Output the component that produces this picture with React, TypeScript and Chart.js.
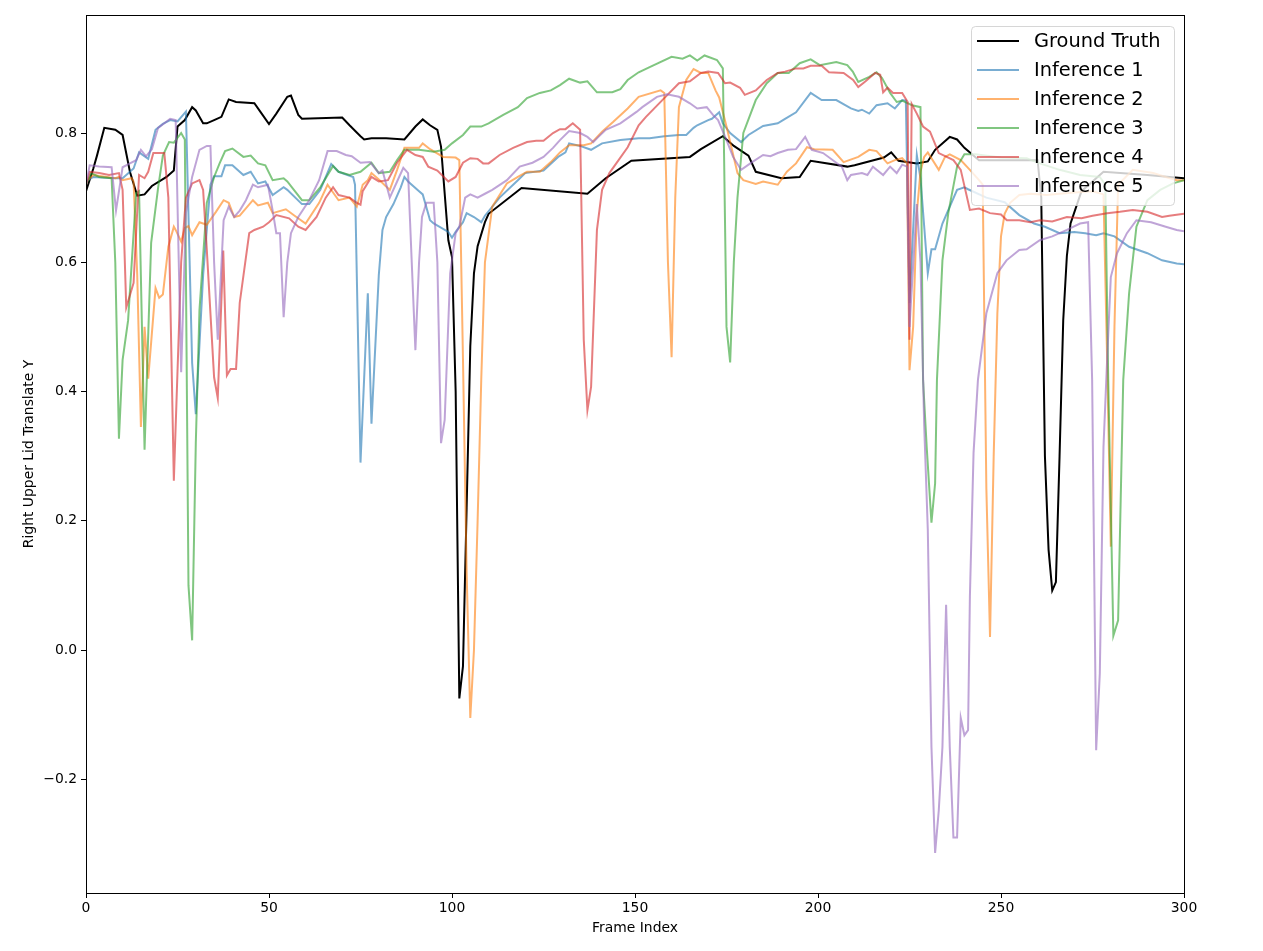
import { Chart, registerables } from "chart.js";
import React, { useEffect, useRef } from "react";

Chart.register(...registerables);

// [frame, value] pairs
const groundTruth: [number, number][] = [
  [0, 0.71], [2, 0.745], [3, 0.765], [5, 0.808], [8, 0.805], [10, 0.797], [12, 0.74], [14, 0.703],
  [16, 0.705], [18, 0.718], [22, 0.732], [24, 0.742], [25, 0.81], [27, 0.82], [29, 0.84], [30, 0.835],
  [32, 0.815], [33, 0.815], [35, 0.82], [37, 0.825], [39, 0.852], [41, 0.848], [46, 0.846], [48, 0.83],
  [50, 0.814], [52, 0.83], [55, 0.856], [56, 0.858], [58, 0.828], [59, 0.822], [70, 0.824], [72, 0.812],
  [75, 0.795], [76, 0.79], [78, 0.792], [82, 0.792], [87, 0.79], [90, 0.81], [92, 0.821], [94, 0.812],
  [96, 0.805], [97, 0.779], [99, 0.634], [100, 0.608], [101, 0.4], [102, -0.075], [103, -0.025],
  [104, 0.22], [105, 0.47], [106, 0.583], [107, 0.625], [109, 0.662], [110, 0.675], [119, 0.715],
  [137, 0.706], [142, 0.73], [149, 0.757], [165, 0.763], [168, 0.775], [174, 0.795], [177, 0.78],
  [181, 0.765], [183, 0.74], [190, 0.73], [195, 0.732], [198, 0.757], [208, 0.748], [210, 0.75],
  [218, 0.762], [220, 0.77], [222, 0.757], [227, 0.753], [230, 0.756], [232, 0.774], [236, 0.794],
  [238, 0.79], [240, 0.777], [244, 0.758], [260, 0.758], [261, 0.7], [262, 0.3], [263, 0.155],
  [264, 0.092], [265, 0.105], [266, 0.3], [267, 0.51], [268, 0.61], [269, 0.66], [272, 0.71],
  [278, 0.74], [290, 0.735], [300, 0.73],
];

const inference1: [number, number][] = [
  [0, 0.725], [2, 0.732], [8, 0.73], [10, 0.73], [13, 0.745], [14.5, 0.77], [17, 0.76], [19, 0.805],
  [21, 0.814], [23, 0.82], [25, 0.818], [27.3, 0.833], [29, 0.444], [30, 0.365], [32, 0.58], [34, 0.72],
  [35, 0.733], [37, 0.733], [38, 0.75], [40, 0.75], [43, 0.735], [45, 0.74], [47, 0.722], [49, 0.725],
  [51, 0.704], [54, 0.716], [55, 0.712], [59, 0.69], [61, 0.69], [64, 0.712], [67, 0.752], [69, 0.74],
  [73, 0.732], [73.5, 0.72], [75, 0.29], [77, 0.552], [78, 0.35], [80, 0.58], [81, 0.65], [82, 0.67],
  [84, 0.69], [86, 0.716], [87, 0.732], [88, 0.725], [91, 0.71], [92, 0.705], [94, 0.665], [95, 0.66],
  [99, 0.647], [100, 0.638], [101, 0.647], [103, 0.662], [104, 0.676], [106, 0.67], [108, 0.662],
  [109, 0.672], [113, 0.7], [118, 0.727], [120, 0.738], [125, 0.742], [129, 0.763], [131, 0.77],
  [132, 0.784], [135, 0.78], [138, 0.774], [141, 0.784], [146, 0.789], [151, 0.792], [154, 0.792],
  [158, 0.795], [162, 0.797], [164, 0.797], [166, 0.808], [167, 0.812], [170, 0.82], [171, 0.822],
  [173, 0.832], [174, 0.815], [176, 0.8], [179, 0.786], [181, 0.797], [185, 0.811], [189, 0.815],
  [191, 0.822], [194, 0.832], [198, 0.862], [201, 0.851], [205, 0.851], [209, 0.838], [211, 0.834],
  [212, 0.836], [214, 0.83], [216, 0.843], [219, 0.846], [221, 0.838], [223, 0.851], [224, 0.85],
  [225, 0.537], [227, 0.766], [228, 0.73], [230, 0.583], [231, 0.62], [232, 0.62], [234, 0.66],
  [238, 0.712], [240, 0.716], [241, 0.713], [246, 0.7], [251, 0.693], [255, 0.673], [259, 0.66],
  [262, 0.655], [266, 0.645], [270, 0.647], [273, 0.645], [276, 0.642], [278, 0.645], [281, 0.64],
  [285, 0.624], [290, 0.614], [294, 0.603], [298, 0.598], [300, 0.597],
];

const inference2: [number, number][] = [
  [0, 0.725], [2, 0.735], [8, 0.73], [9, 0.732], [10, 0.727], [12.5, 0.73], [13, 0.725], [14, 0.58],
  [15, 0.345], [16, 0.5], [17, 0.42], [19, 0.56], [20, 0.545], [21, 0.55], [22.5, 0.624], [24, 0.655],
  [24.5, 0.65], [26, 0.632], [27, 0.653], [28, 0.656], [29, 0.642], [31, 0.662], [33, 0.658],
  [35.5, 0.678], [37.6, 0.696], [39, 0.692], [40.5, 0.67], [42, 0.672], [45.6, 0.696], [47, 0.688],
  [49.7, 0.692], [51, 0.676], [54.6, 0.682], [57, 0.672], [60, 0.66], [63.7, 0.692], [66, 0.72],
  [69, 0.696], [72, 0.7], [74, 0.686], [75.6, 0.72], [77, 0.727], [78, 0.738], [80, 0.728], [83, 0.712],
  [85, 0.743], [87, 0.777], [91, 0.777], [92, 0.784], [94, 0.775], [97.6, 0.763], [101, 0.762],
  [102, 0.758], [103, 0.45], [104, 0.12], [105, -0.105], [106, 0.0], [107, 0.2], [108, 0.42],
  [109, 0.6], [111, 0.686], [115, 0.722], [118, 0.732], [120.5, 0.74], [124, 0.74], [127, 0.755],
  [129.5, 0.77], [132, 0.781], [136, 0.781], [138, 0.784], [141, 0.802], [144, 0.817], [148, 0.838],
  [151, 0.856], [157, 0.866], [158, 0.862], [159, 0.6], [160, 0.453], [161, 0.7], [162, 0.84],
  [164, 0.882], [166, 0.899], [168, 0.893], [170, 0.893], [172, 0.866], [173, 0.855], [175, 0.81],
  [178, 0.738], [179.6, 0.727], [183, 0.721], [185, 0.725], [189, 0.72], [191.5, 0.74], [194, 0.753],
  [197, 0.778], [199, 0.775], [204, 0.774], [207, 0.755], [211, 0.763], [214, 0.774], [216, 0.772],
  [219, 0.753], [221, 0.758], [223, 0.761], [224.3, 0.753], [225, 0.433], [226, 0.5], [227, 0.676],
  [228, 0.74], [229, 0.763], [230, 0.77], [233, 0.743], [234.7, 0.763], [236, 0.767], [239, 0.758],
  [241.5, 0.743], [244, 0.727], [245, 0.72], [246, 0.25], [247, 0.02], [248, 0.3], [249, 0.52],
  [250, 0.64], [251, 0.675], [252.5, 0.692], [255, 0.704], [258, 0.706], [262.5, 0.704], [266, 0.706],
  [270, 0.708], [275, 0.71], [278, 0.705], [279, 0.45], [280, 0.16], [281, 0.5], [282, 0.72],
  [286, 0.743], [291.6, 0.738], [295, 0.732], [298, 0.727], [300, 0.727],
];

const inference3: [number, number][] = [
  [0, 0.72], [1.4, 0.738], [3.6, 0.732], [7, 0.73], [8, 0.6], [9, 0.327], [10, 0.449], [11.5, 0.51],
  [13.7, 0.707], [14.5, 0.71], [16, 0.31], [17.8, 0.63], [19.7, 0.715], [21, 0.765], [22.7, 0.786],
  [24, 0.785], [26, 0.8], [27, 0.79], [28, 0.1], [29, 0.015], [30, 0.32], [31, 0.526], [33, 0.692],
  [35, 0.732], [36.5, 0.753], [38, 0.772], [40, 0.776], [43, 0.763], [45, 0.765], [47, 0.753],
  [49, 0.75], [51, 0.727], [54, 0.73], [55, 0.725], [59, 0.696], [61, 0.696], [64, 0.716],
  [67.5, 0.749], [69, 0.74], [72, 0.735], [75, 0.74], [78, 0.754], [80, 0.738], [83, 0.74],
  [85, 0.758], [87, 0.774], [91, 0.774], [95, 0.771], [98, 0.774], [100, 0.784], [103, 0.797],
  [105, 0.81], [108, 0.81], [110, 0.815], [114, 0.828], [118, 0.84], [120.5, 0.854], [124, 0.862],
  [127, 0.866], [129.5, 0.874], [132, 0.884], [135, 0.878], [137, 0.88], [139.6, 0.863],
  [143.8, 0.863], [146, 0.868], [148, 0.882], [151, 0.894], [154, 0.902], [160, 0.918], [163, 0.915],
  [165, 0.92], [167, 0.912], [169, 0.92], [172.4, 0.913], [174, 0.9], [175, 0.5], [176, 0.445],
  [177, 0.6], [178, 0.7], [179.6, 0.8], [183, 0.851], [186, 0.877], [189, 0.893], [192, 0.893],
  [195, 0.908], [198, 0.914], [200.5, 0.905], [205, 0.91], [208, 0.905], [209.5, 0.895], [211, 0.879],
  [214, 0.887], [216, 0.894], [217.5, 0.885], [219.7, 0.862], [221.5, 0.848], [223, 0.85],
  [225.7, 0.843], [228, 0.84], [228.7, 0.418], [229.7, 0.314], [231, 0.197], [232, 0.258],
  [232.5, 0.418], [234, 0.603], [235.6, 0.676], [238, 0.748], [240, 0.767], [243, 0.767], [250, 0.762],
  [257, 0.761], [260.6, 0.753], [266, 0.743], [271.6, 0.735], [277, 0.732], [278.5, 0.72],
  [279.3, 0.418], [280.7, 0.022], [282, 0.046], [283.4, 0.418], [285, 0.552], [287, 0.655],
  [290, 0.696], [293.5, 0.712], [297, 0.722], [300, 0.727],
];

const inference4: [number, number][] = [
  [0, 0.72], [1, 0.74], [3.6, 0.738], [6.3, 0.735], [9, 0.738], [10, 0.712], [11, 0.53], [13, 0.568],
  [14.5, 0.735], [16, 0.73], [17, 0.74], [18.4, 0.769], [21.4, 0.769], [22.5, 0.7], [24, 0.262],
  [26, 0.6], [27.3, 0.7], [29, 0.722], [31, 0.727], [32, 0.712], [33, 0.62], [35, 0.422], [36, 0.39],
  [37.5, 0.618], [38.5, 0.425], [39.5, 0.435], [41, 0.435], [42, 0.537], [44.6, 0.645], [46, 0.65],
  [48.4, 0.655], [50, 0.662], [52, 0.673], [55.5, 0.668], [58, 0.655], [60, 0.65], [63, 0.67],
  [65.5, 0.7], [67.5, 0.716], [69, 0.704], [72, 0.7], [74, 0.692], [75, 0.689], [75.6, 0.71],
  [78, 0.732], [80, 0.725], [82.5, 0.727], [85, 0.754], [87.7, 0.774], [90, 0.766], [92, 0.763],
  [93.5, 0.748], [96, 0.742], [99, 0.725], [101, 0.732], [103, 0.754], [105, 0.761], [107, 0.76],
  [108.5, 0.753], [110, 0.753], [113, 0.766], [116.7, 0.777], [120.5, 0.786], [123, 0.788],
  [125, 0.788], [127.6, 0.8], [129.5, 0.806], [131, 0.806], [133, 0.815], [135, 0.805], [136, 0.48],
  [137, 0.371], [138, 0.407], [139.6, 0.65], [141, 0.712], [143, 0.738], [148, 0.778], [151, 0.812],
  [153, 0.825], [158, 0.854], [162, 0.877], [165, 0.88], [168, 0.893], [170, 0.895], [172.7, 0.893],
  [174.6, 0.877], [176, 0.878], [178.7, 0.87], [180, 0.859], [183, 0.866], [186, 0.882], [189, 0.893],
  [191, 0.895], [194, 0.9], [196, 0.9], [198, 0.904], [201, 0.904], [203, 0.894], [207, 0.893],
  [209.6, 0.882], [211, 0.871], [213, 0.88], [215.6, 0.893], [217, 0.89], [217.8, 0.863], [219, 0.87],
  [220.5, 0.862], [223, 0.862], [224.5, 0.848], [225, 0.48], [225.6, 0.845], [227, 0.83],
  [228.7, 0.81], [230.6, 0.802], [233, 0.769], [237, 0.758], [239, 0.743], [241.5, 0.681],
  [244, 0.683], [247, 0.676], [250, 0.674], [251.6, 0.665], [255, 0.665], [258, 0.662],
  [260.6, 0.665], [264, 0.663], [268, 0.67], [272, 0.668], [275, 0.672], [279, 0.676],
  [282.5, 0.678], [286, 0.681], [290, 0.678], [294, 0.67], [296, 0.672], [300, 0.675],
];

const inference5: [number, number][] = [
  [0, 0.72], [1, 0.75], [3.6, 0.748], [7, 0.747], [8.2, 0.68], [10, 0.747], [12, 0.753],
  [13.7, 0.758], [15, 0.774], [16.4, 0.764], [18, 0.775], [19.7, 0.808], [21.4, 0.815], [23, 0.822],
  [24.5, 0.82], [26, 0.43], [27.3, 0.676], [29, 0.732], [31, 0.774], [33, 0.78], [34, 0.78],
  [35, 0.6], [36, 0.48], [37.6, 0.665], [39, 0.686], [40.5, 0.67], [42, 0.68], [43.7, 0.696],
  [45.6, 0.72], [47, 0.716], [49.7, 0.72], [51, 0.68], [52, 0.645], [53, 0.645], [54, 0.515],
  [55, 0.6], [56, 0.645], [58, 0.67], [61, 0.696], [63.7, 0.727], [66, 0.772], [68.5, 0.772],
  [71, 0.766], [72.6, 0.764], [75, 0.754], [77.6, 0.755], [80, 0.738], [81, 0.742], [83, 0.7],
  [85, 0.725], [86.7, 0.746], [88, 0.738], [89, 0.6], [90, 0.464], [91, 0.6], [91.8, 0.67],
  [93, 0.692], [95, 0.692], [96, 0.6], [97, 0.32], [98, 0.356], [99.5, 0.583], [101, 0.645],
  [102, 0.655], [103.6, 0.7], [105, 0.705], [107, 0.7], [109, 0.706], [111, 0.712], [115, 0.727],
  [118.5, 0.748], [122, 0.754], [125, 0.763], [127.6, 0.777], [129.5, 0.789], [132, 0.803],
  [135, 0.8], [137, 0.794], [138.6, 0.786], [140, 0.794], [142, 0.805], [146, 0.815], [150.5, 0.833],
  [152, 0.84], [156, 0.856], [158.7, 0.86], [162, 0.856], [165, 0.846], [167, 0.838], [169.6, 0.84],
  [171.3, 0.828], [172.7, 0.82], [175, 0.789], [176.8, 0.763], [179, 0.743], [182, 0.755],
  [185, 0.766], [187, 0.764], [189, 0.769], [191.8, 0.774], [194, 0.775], [196.5, 0.794],
  [198.3, 0.774], [201.4, 0.769], [205, 0.754], [206.5, 0.748], [208, 0.727], [209, 0.735],
  [212, 0.738], [213.5, 0.735], [215, 0.748], [217.8, 0.735], [219.7, 0.748], [221.5, 0.738],
  [223, 0.751], [224.3, 0.748], [225, 0.5], [227, 0.69], [228, 0.6], [229, 0.35], [230, 0.186],
  [231, -0.15], [232, -0.314], [233, -0.248], [234, -0.15], [235, 0.07], [236, -0.15], [237, -0.29],
  [238, -0.29], [239, -0.105], [240, -0.132], [241, -0.124], [241.5, 0.082], [242.5, 0.305],
  [243.7, 0.418], [246, 0.521], [249, 0.583], [251.5, 0.603], [255, 0.619], [257, 0.62],
  [260.6, 0.634], [264, 0.64], [268, 0.65], [271.6, 0.66], [273.8, 0.662], [274.9, 0.418],
  [276, -0.155], [277, -0.036], [278, 0.314], [279, 0.45], [280, 0.577], [281.7, 0.614],
  [284.4, 0.645], [287, 0.665], [291, 0.662], [295, 0.655], [298, 0.65], [300, 0.648],
];

const seriesLabels = ["Ground Truth", "Inference 1", "Inference 2", "Inference 3", "Inference 4", "Inference 5"];
const seriesData = [groundTruth, inference1, inference2, inference3, inference4, inference5];
const seriesColors = [
  "rgba(0,0,0,1)",
  "rgba(31,119,180,0.6)",
  "rgba(255,127,14,0.6)",
  "rgba(44,160,44,0.6)",
  "rgba(214,39,40,0.6)",
  "rgba(148,103,189,0.6)",
];

const xTicks = [0, 50, 100, 150, 200, 250, 300];
const yTicks = [-0.2, 0.0, 0.2, 0.4, 0.6, 0.8];

const FONT = "'DejaVu Sans', sans-serif";

// spines on all four sides, like matplotlib
const framePlugin = {
  id: "frame",
  afterDraw(chart: any) {
    const { ctx, chartArea } = chart;
    ctx.save();
    ctx.strokeStyle = "#000";
    ctx.lineWidth = 1;
    ctx.strokeRect(
      Math.round(chartArea.left) + 0.5,
      Math.round(chartArea.top) + 0.5,
      Math.round(chartArea.right - chartArea.left),
      Math.round(chartArea.bottom - chartArea.top)
    );
    ctx.restore();
  },
};

// legend drawn inside the plot area (upper right)
const insideLegendPlugin = {
  id: "insideLegend",
  afterDraw(chart: any) {
    const { ctx, chartArea } = chart;
    const w = 203;
    const h = 179;
    const x = chartArea.right - 10 - w;
    const y = chartArea.top + 11;
    ctx.save();
    ctx.beginPath();
    ctx.roundRect(x + 0.5, y + 0.5, w, h, 4);
    ctx.fillStyle = "rgba(255,255,255,0.8)";
    ctx.fill();
    ctx.strokeStyle = "rgba(204,204,204,0.8)";
    ctx.lineWidth = 1;
    ctx.stroke();
    ctx.font = `19.4px ${FONT}`;
    ctx.textBaseline = "middle";
    seriesLabels.forEach((label, i) => {
      const rowY = y + 15 + i * 29;
      ctx.beginPath();
      ctx.strokeStyle = seriesColors[i];
      ctx.lineWidth = 2;
      ctx.moveTo(x + 6, rowY);
      ctx.lineTo(x + 48, rowY);
      ctx.stroke();
      ctx.fillStyle = "#000";
      ctx.fillText(label, x + 63, rowY + 1);
    });
    ctx.restore();
  },
};

const App: React.FC = () => {
  const canvasRef = useRef<HTMLCanvasElement>(null);
  const chartInstance = useRef<Chart | null>(null);

  useEffect(() => {
    const ctx = canvasRef.current?.getContext("2d");
    if (!ctx) return;
    if (chartInstance.current) chartInstance.current.destroy();

    chartInstance.current = new Chart(ctx, {
      type: "line",
      data: {
        datasets: seriesData.map((pts, i) => ({
          label: seriesLabels[i],
          data: pts.map(([x, y]) => ({ x, y })),
          borderColor: seriesColors[i],
          backgroundColor: seriesColors[i],
          borderWidth: 2,
          pointRadius: 0,
          tension: 0,
          fill: false,
          order: seriesLabels.length - i, // later series drawn on top
        })),
      },
      options: {
        responsive: false,
        animation: false,
        devicePixelRatio: 1,
        layout: { padding: { left: 0, right: 79, top: 15, bottom: 0 } },
        plugins: {
          legend: { display: false },
          tooltip: { enabled: false },
        },
        scales: {
          x: {
            type: "linear",
            min: 0,
            max: 300,
            afterBuildTicks: (axis: any) => {
              axis.ticks = xTicks.map((v) => ({ value: v }));
            },
            afterFit: (axis: any) => {
              axis.height = 58;
            },
            grid: { drawOnChartArea: false, drawTicks: true, tickLength: 5, color: "#000" },
            border: { display: true, color: "#000" },
            ticks: {
              color: "#000",
              font: { family: FONT, size: 13.9 },
              padding: 2,
              maxRotation: 0,
            },
            title: {
              display: true,
              text: "Frame Index",
              color: "#000",
              font: { family: FONT, size: 13.9 },
              padding: { top: 0, bottom: 14 },
            },
          },
          y: {
            type: "linear",
            min: -0.376,
            max: 0.9826,
            afterBuildTicks: (axis: any) => {
              axis.ticks = yTicks.map((v) => ({ value: v }));
            },
            afterFit: (axis: any) => {
              axis.width = 86;
            },
            grid: { drawOnChartArea: false, drawTicks: true, tickLength: 5, color: "#000" },
            border: { display: true, color: "#000" },
            ticks: {
              color: "#000",
              font: { family: FONT, size: 13.9 },
              padding: 4,
              callback: (v: any) => Number(v).toFixed(1).replace("-", "\u2212"),
            },
            title: {
              display: true,
              text: "Right Upper Lid Translate Y",
              color: "#000",
              font: { family: FONT, size: 13.9 },
              padding: { top: 21, bottom: 0 },
            },
          },
        },
      },
      plugins: [framePlugin, insideLegendPlugin],
    });

    return () => {
      chartInstance.current?.destroy();
      chartInstance.current = null;
    };
  }, []);

  return (
    <div style={{ position: "absolute", left: 0, top: 0, width: 1263, height: 951, background: "#fff" }}>
      <canvas ref={canvasRef} width={1263} height={951} />
    </div>
  );
};

export default App;
